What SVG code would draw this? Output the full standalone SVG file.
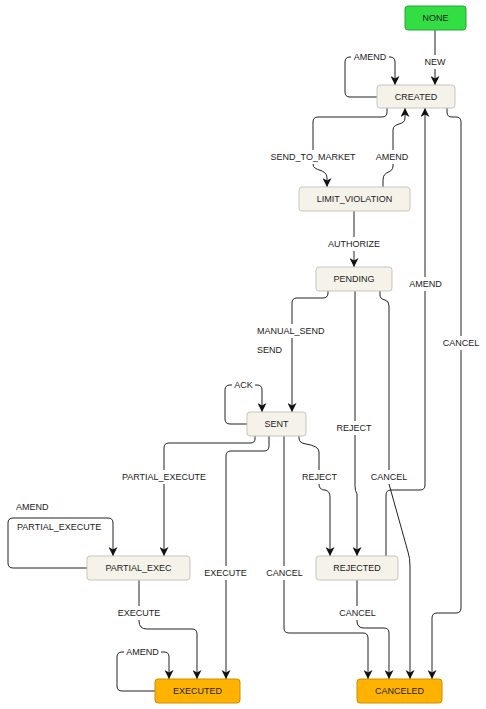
<svg xmlns="http://www.w3.org/2000/svg" width="486" height="709" viewBox="0 0 486 709">
<style>
.n rect{fill:#f5f2e9;stroke:#c9c5ba;stroke-width:1}
.n text,.lbl text{font-family:"Liberation Sans",Arial,sans-serif;font-size:9px;fill:#222;text-anchor:middle}
.start rect{fill:#33dd44;stroke:#27a535}
.final rect{fill:#ffb300;stroke:#c98e00}
.e path{fill:none;stroke:#222;stroke-width:1;marker-end:url(#ah)}
.lbl rect{fill:#fff;stroke:none}
.lbl text.l{text-anchor:start}
</style>
<defs>
<marker id="ah" markerUnits="userSpaceOnUse" markerWidth="10" markerHeight="9" refX="9" refY="4.5" orient="auto">
<path d="M0,0 L9,4.5 L0,9 L2.5,4.5 z" fill="#111"/>
</marker>
</defs>
<rect width="486" height="709" fill="#fff"/>
<g id="connectors" class="e">
<path d="M435,30 V85"/>
<path d="M377,97 H350 Q345,97 345,92 V62 Q345,57 350,57 H390 Q395,57 395,62 V85"/>
<path d="M387,108 V112 Q387,117 382,117 H318 Q313,117 313,122 V164 C313,172 327,168 327,178 V187"/>
<path d="M383,187 V180 C383,170 393,174 393,166 V130 C393,122 405,126 405,118 V108"/>
<path d="M354,211 V267"/>
<path d="M386,556 V495 Q386,490 391,490 H420 Q425,490 425,485 V108"/>
<path d="M447,108 V112 Q447,117 452,117 H456 Q461,117 461,122 V608 Q461,613 456,613 H437 Q432,613 432,618 V679"/>
<path d="M328,291 V293 Q328,298 323,298 H297 Q292,298 292,303 V412"/>
<path d="M355,291 V486 Q355,491 357,494 V556"/>
<path d="M380,291 V295 Q380,299 385,300 Q389,301 389,306 V484 L408,552 Q410,558 410,566 V679"/>
<path d="M247,424 H230 Q225,424 225,419 V390 Q225,385 230,385 H257 Q262,385 262,390 V412"/>
<path d="M255,436 V439 Q255,443 250,443 H169 Q164,443 164,448 V556"/>
<path d="M269,436 V446 Q269,451 264,451 H231 Q226,451 226,456 V679"/>
<path d="M284,436 V628 Q284,633 289,633 H363 Q368,633 368,638 V679"/>
<path d="M299,436 V438 Q299,443 306,444 Q319,446 319,452 V484 Q319,490 325,490 Q330,491 330,497 V556"/>
<path d="M87,568 H13 Q8,568 8,563 V523 Q8,518 13,518 H108 Q113,518 113,523 V556"/>
<path d="M139,580 V621 Q139,629 147,629 H192 Q197,629 197,634 V679"/>
<path d="M155,691 H122 Q117,691 117,686 V657 Q117,652 122,652 H164 Q169,652 169,657 V679"/>
<path d="M357,580 V621 Q357,628 364,628 H384 Q389,628 389,633 V679"/>
</g>
<g id="labels" class="lbl">
<rect x="424" y="55" width="22" height="14"/><text x="435" y="65">NEW</text>
<rect x="351" y="50" width="38" height="14"/><text x="370" y="60">AMEND</text>
<rect x="268" y="150" width="90" height="14"/><text x="313" y="160">SEND_TO_MARKET</text>
<rect x="373" y="150" width="38" height="14"/><text x="392" y="160">AMEND</text>
<rect x="326" y="237" width="57" height="14"/><text x="354" y="247">AUTHORIZE</text>
<rect x="407" y="277" width="37" height="14"/><text x="425.5" y="287">AMEND</text>
<rect x="441" y="336" width="40" height="14"/><text x="461" y="346">CANCEL</text>
<rect x="255" y="324" width="74" height="14"/><text class="l" x="257" y="334">MANUAL_SEND</text>
<text class="l" x="257" y="353">SEND</text>
<rect x="232" y="378" width="23" height="14"/><text x="243.5" y="388">ACK</text>
<rect x="334" y="421" width="40" height="14"/><text x="354" y="431">REJECT</text>
<rect x="119" y="470" width="91" height="14"/><text x="164" y="480">PARTIAL_EXECUTE</text>
<rect x="299" y="470" width="41" height="14"/><text x="319.5" y="480">REJECT</text>
<rect x="369" y="470" width="40" height="14"/><text x="389" y="480">CANCEL</text>
<text class="l" x="16" y="510">AMEND</text>
<text class="l" x="17" y="530">PARTIAL_EXECUTE</text>
<rect x="202" y="566" width="47" height="14"/><text x="225.5" y="576">EXECUTE</text>
<rect x="264" y="566" width="41" height="14"/><text x="284.5" y="576">CANCEL</text>
<rect x="116" y="606" width="47" height="14"/><text x="139" y="616">EXECUTE</text>
<rect x="337" y="606" width="41" height="14"/><text x="357.5" y="616">CANCEL</text>
<rect x="124" y="645" width="37" height="14"/><text x="142.5" y="655">AMEND</text>
</g>
<g id="NONE" class="n start"><rect x="405" y="6" width="61" height="24" rx="3"/><text x="435.5" y="21">NONE</text></g>
<g id="CREATED" class="n"><rect x="377" y="85" width="78" height="23" rx="3"/><text x="416" y="100">CREATED</text></g>
<g id="LIMIT_VIOLATION" class="n"><rect x="299" y="187" width="111" height="24" rx="3"/><text x="354.5" y="202">LIMIT_VIOLATION</text></g>
<g id="PENDING" class="n"><rect x="316" y="267" width="76" height="24" rx="3"/><text x="354" y="282">PENDING</text></g>
<g id="SENT" class="n"><rect x="247" y="412" width="59" height="24" rx="3"/><text x="276.5" y="427">SENT</text></g>
<g id="PARTIAL_EXEC" class="n"><rect x="87" y="556" width="103" height="24" rx="3"/><text x="138.5" y="571">PARTIAL_EXEC</text></g>
<g id="REJECTED" class="n"><rect x="316" y="556" width="82" height="24" rx="3"/><text x="357" y="571">REJECTED</text></g>
<g id="EXECUTED" class="n final"><rect x="155" y="679" width="85" height="24" rx="3"/><text x="197.5" y="694">EXECUTED</text></g>
<g id="CANCELED" class="n final"><rect x="357" y="679" width="85" height="24" rx="3"/><text x="399.5" y="694">CANCELED</text></g>
</svg>
